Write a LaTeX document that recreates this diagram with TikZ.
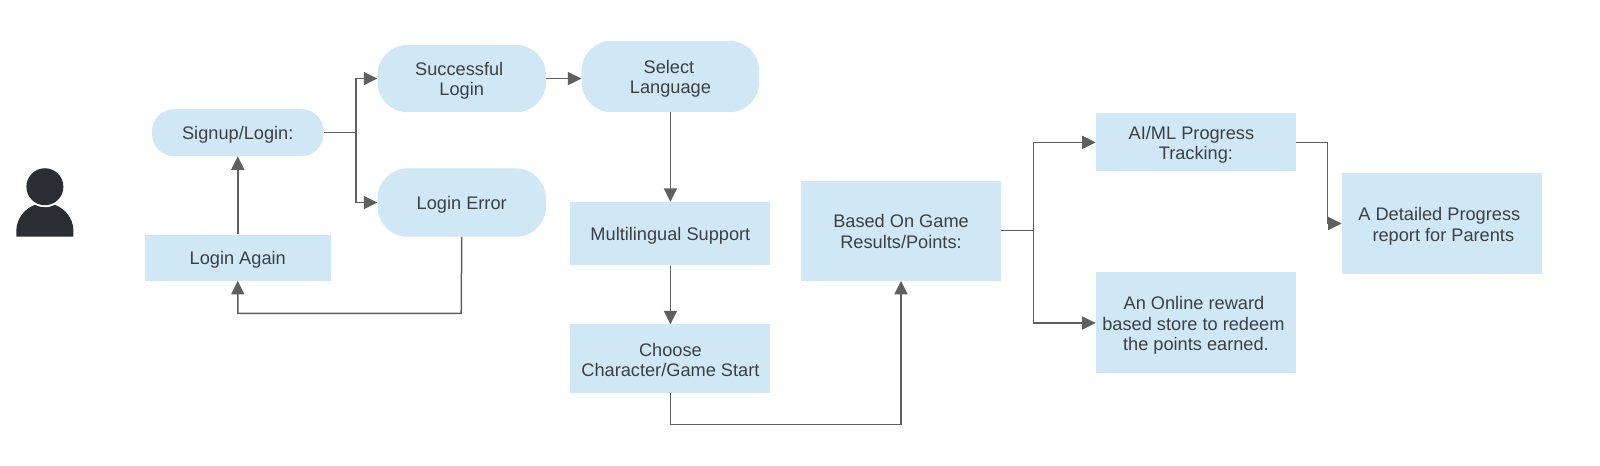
\documentclass[tikz,border=0pt]{standalone}
\usepackage{fontspec}
\setmainfont{Liberation Sans}
\usetikzlibrary{arrows.meta,calc}
\definecolor{boxfill}{HTML}{D0E8F6}
\definecolor{txt}{HTML}{3C4043}
\definecolor{wire}{HTML}{5F5F5F}
\definecolor{icon}{HTML}{2A2D32}
\tikzset{
  base/.style={fill=boxfill,text=txt,align=center,inner sep=0pt,font=\fontsize{18.2}{20.5}\selectfont},
  sq/.style={base,rectangle},
  pill/.style={base,rectangle,rounded corners=#1},
  conn/.style={draw=wire,line width=1.5pt,-{Triangle[length=13.5pt,width=13pt]}},
  plainconn/.style={draw=wire,line width=1.5pt},
}
\newcommand{\bx}[7]{\node[#1,minimum width={(#5-#3)*1.0204pt},minimum height={(#6-#4)*1.0204pt}] (#2) at ({(#3+#5)/2},{(#4+#6)/2}) {\rule{0pt}{18pt}#7\rule[-2.8pt]{0pt}{0pt}};}
\newcommand{\pad}[1]{\rule{#1pt}{0pt}}
\begin{document}
\begin{tikzpicture}[x=1.0204pt,y=-1.0204pt]
\useasboundingbox (0,0) rectangle (1568,455.7);
\fill[white] (0,0) rectangle (1568,455.7);
% person
\coordinate (headc) at (44,183);
\fill[icon] (16,232) -- (16,226) .. controls (16,212) and (28,199) .. (44,199) .. controls (60,199) and (72,212) .. (72,226) -- (72,232) -- cycle;
\fill[white] (headc) circle (20.5pt);
\fill[icon] (headc) circle (18.5pt);
\bx{pill=22pt}{signup}{149}{107}{317}{153}{Signup/Login:}
\bx{sq}{again}{142}{230}{324}{275}{Login Again}
\bx{pill=30pt}{success}{370}{44}{535}{110}{Successful\pad{5}\\Login}
\bx{pill=30pt}{error}{370}{165}{535}{232}{Login Error}
\bx{pill=30pt}{lang}{570}{40}{744}{110}{Select\pad{3}\\Language}
\bx{sq}{multi}{559}{198}{755}{260}{Multilingual Support}
\bx{sq}{choose}{559}{318}{755}{385}{Choose\\Character/Game Start}
\bx{sq}{based}{785}{177}{981}{275}{Based On Game\\Results/Points:}
\bx{sq}{track}{1074}{111}{1270}{168}{AI/ML Progress\pad{9}\\Tracking:}
\bx{sq}{store}{1074}{267}{1270}{366}{An Online reward\pad{4}\\based store to redeem\pad{5}\\the points earned.}
\bx{sq}{report}{1315}{170}{1511}{269}{A Detailed Progress\pad{5}\\\pad{3}report for Parents}
\coordinate (j1) at (349,130);
\coordinate (j2) at (452,307);
\coordinate (j3) at (657,416);
\coordinate (j4) at (1013,226);
\coordinate (j5) at (1301,219);
\draw[plainconn] (signup.east) -- (j1);
\draw[conn] (j1) |- (success.west);
\draw[conn] (j1) |- (error.west);
\draw[conn] (again.north) -- (signup.south);
\draw[conn] (error.south) -- (j2) -| (again.south);
\draw[conn] (success.east) -- (success.east -| lang.west);
\draw[conn] (lang.south) -- (lang.south |- multi.north);
\draw[conn] (multi.south) -- (multi.south |- choose.north);
\draw[conn] (choose.south) -- (j3) -| (based.south);
\draw[plainconn] (based.east |- j4) -- (j4);
\draw[conn] (j4) |- (track.west);
\draw[conn] (j4) |- (store.west);
\draw[conn] (track.east) -| (j5) -- (j5 -| report.west);
\end{tikzpicture}
\end{document}
